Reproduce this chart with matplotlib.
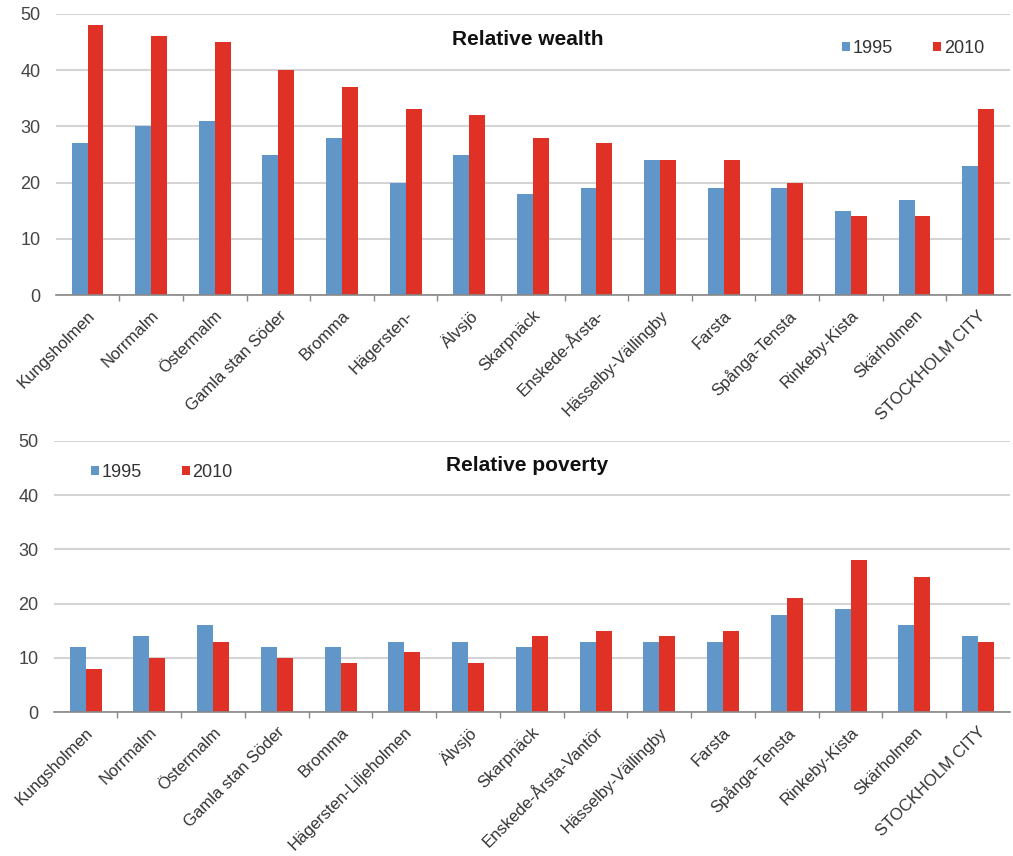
import numpy as np
import matplotlib.pyplot as plt

# districts (top chart has truncated names)
labels_wealth = ['Kungsholmen', 'Norrmalm', 'Östermalm', 'Gamla stan Söder', 'Bromma',
                 'Hägersten-', 'Älvsjö', 'Skarpnäck', 'Enskede-Årsta-', 'Hässelby-Vällingby',
                 'Farsta', 'Spånga-Tensta', 'Rinkeby-Kista', 'Skärholmen', 'STOCKHOLM CITY']
labels_poverty = ['Kungsholmen', 'Norrmalm', 'Östermalm', 'Gamla stan Söder', 'Bromma',
                  'Hägersten-Liljeholmen', 'Älvsjö', 'Skarpnäck', 'Enskede-Årsta-Vantör',
                  'Hässelby-Vällingby', 'Farsta', 'Spånga-Tensta', 'Rinkeby-Kista',
                  'Skärholmen', 'STOCKHOLM CITY']

wealth_1995 = [27, 30, 31, 25, 28, 20, 25, 18, 19, 24, 19, 19, 15, 17, 23]
wealth_2010 = [48, 46, 45, 40, 37, 33, 32, 28, 27, 24, 24, 20, 14, 14, 33]
poverty_1995 = [12, 14, 16, 12, 12, 13, 13, 12, 13, 13, 13, 18, 19, 16, 14]
poverty_2010 = [8, 10, 13, 10, 9, 11, 9, 14, 15, 14, 15, 21, 28, 25, 13]

blue = '#6196c9'
red = '#e03127'

plt.rcParams['font.family'] = ['Liberation Sans', 'DejaVu Sans']

fig = plt.figure(figsize=(10.13, 8.56), dpi=100)
ax1 = fig.add_axes([0.055, 0.655, 0.942, 0.329])
ax2 = fig.add_axes([0.053, 0.168, 0.944, 0.317])


def draw(ax, labels, v95, v10, title, legend_loc, colspace):
    x = np.arange(len(labels))
    w = 0.25
    ax.bar(x - w / 2, v95, w, color=blue, label='1995', zorder=3)
    ax.bar(x + w / 2, v10, w, color=red, label='2010', zorder=3)
    ax.set_xlim(-0.5, len(labels) - 0.5)
    ax.set_ylim(0, 50)
    ax.set_yticks(range(0, 51, 10))
    ax.yaxis.grid(True, color='#d4d4d4', lw=1.5, zorder=0)
    for s in ['top', 'right', 'left']:
        ax.spines[s].set_visible(False)
    ax.spines['bottom'].set_color('#888888')
    ax.spines['bottom'].set_linewidth(1.2)
    ax.spines['bottom'].set_zorder(4)
    ax.tick_params(axis='y', length=0, pad=11, labelsize=13, labelcolor='#444444')
    ax.set_xticks(x)
    ax.set_xticklabels(labels, rotation=45, ha='right', rotation_mode='anchor',
                       fontsize=12, color='#333333')
    ax.tick_params(axis='x', which='major', length=0, pad=9)
    ax.set_xticks(np.arange(len(labels) - 1) + 0.5, minor=True)
    ax.tick_params(axis='x', which='minor', length=4, color='#888888', width=1)
    ax.text(0.495, 0.908, title, transform=ax.transAxes, ha='center', va='center',
            fontsize=15, fontweight='bold', color='#111111')
    leg = ax.legend(loc=legend_loc, ncol=2, frameon=False, fontsize=13,
                    handlelength=0.45, handleheight=0.45, handletextpad=0.15,
                    columnspacing=colspace)
    for t in leg.get_texts():
        t.set_color('#333333')
    return leg


l1 = draw(ax1, labels_wealth, wealth_1995, wealth_2010, 'Relative wealth', 'upper right', 2.2)
l1.set_bbox_to_anchor((0.99, 0.965), transform=ax1.transAxes)
l2 = draw(ax2, labels_poverty, poverty_1995, poverty_2010, 'Relative poverty', 'upper left', 2.2)
l2.set_bbox_to_anchor((0.022, 0.975), transform=ax2.transAxes)

fig.savefig('out.png', dpi=100)
